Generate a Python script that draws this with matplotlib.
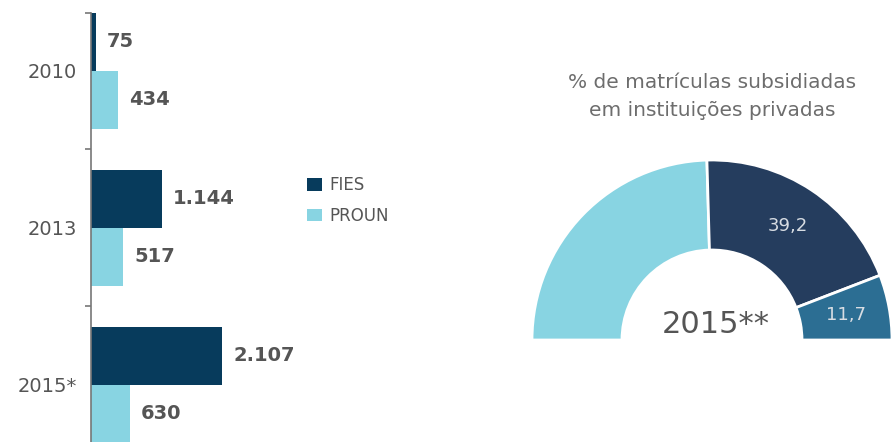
import numpy as np
import matplotlib.pyplot as plt

# ---- data ----
anos = ['2010', '2013', '2015*']
fies = [75, 1144, 2107]
proun = [434, 517, 630]

pie_labels = ['', '39,2', '11,7']
pie_vals = [49.1, 39.2, 11.7]

navy = '#073b5c'
cyan = '#88d4e2'
donut_navy = '#253d5e'
teal = '#2c6e93'
txt = '#555555'

W, H = 895, 442
fig = plt.figure(figsize=(W / 100, H / 100), dpi=100)

# ---- bars ----
ax = fig.add_axes([91 / W, 0, 200 / W, (H - 13) / H])
y = np.arange(len(anos))
h = 0.369
ax.barh(y - h / 2, fies, height=h, color=navy, label='FIES')
ax.barh(y + h / 2, proun, height=h, color=cyan, label='PROUN')
ax.set_xlim(0, 200 * 16.08)
ax.set_ylim(2.366, -h)

for yy, v in zip(y, fies):
    ax.annotate(f'{v:,}'.replace(',', '.'), (v, yy - h / 2), xytext=(11, 0),
                textcoords='offset pixels', va='center', ha='left',
                fontsize=14, fontweight='bold', color=txt)
for yy, v in zip(y, proun):
    ax.annotate(f'{v:,}'.replace(',', '.'), (v, yy + h / 2), xytext=(11, 0),
                textcoords='offset pixels', va='center', ha='left',
                fontsize=14, fontweight='bold', color=txt)

for s in ['top', 'right', 'bottom']:
    ax.spines[s].set_visible(False)
ax.spines['left'].set_color('#777777')
ax.spines['left'].set_linewidth(1.2)
ax.set_xticks([])
ax.set_yticks(y)
ax.set_yticklabels(anos, fontsize=14, color=txt)
ax.tick_params(axis='y', which='major', length=0, pad=10)
ax.set_yticks([-h, 0.5, 1.5], minor=True)
ax.tick_params(axis='y', which='minor', length=4, color='#777777', width=1.2)

fig.legend(handles=ax.get_legend_handles_labels()[0], labels=['FIES', 'PROUN'],
           loc='upper left', bbox_to_anchor=(299 / W, 1 - 168 / H),
           frameon=False, fontsize=12, handlelength=0.9, handleheight=0.8,
           handletextpad=0.45, labelspacing=0.75, borderpad=0,
           labelcolor=txt)

# ---- half donut ----
R = 180
cx, cy = 712, 340
pax = fig.add_axes([(cx - R) / W, (H - cy - R) / H, 2 * R / W, 2 * R / H])
wedges, texts = pax.pie(pie_vals + [sum(pie_vals)], labels=pie_labels + [''],
                        colors=[cyan, donut_navy, teal, 'none'],
                        startangle=180, counterclock=False, radius=1,
                        labeldistance=0.76,
                        wedgeprops=dict(width=0.5, edgecolor='white', linewidth=2))
wedges[-1].set_edgecolor('none')
for t in texts:
    t.set_ha('center')
    t.set_va('center')
    t.set_color('#d8dde3')
    t.set_fontsize(13)
pax.set_xlim(-1, 1)
pax.set_ylim(-1, 1)
pax.text(0.02, 0.04, '2015**', ha='center', va='baseline', fontsize=22, color=txt)

fig.text(cx / W, 1 - 96 / H, '% de matrículas subsidiadas\nem instituições privadas',
         ha='center', va='center', fontsize=14.5, color='#6d6d6d', linespacing=1.6)

fig.savefig('out.png', dpi=100)
